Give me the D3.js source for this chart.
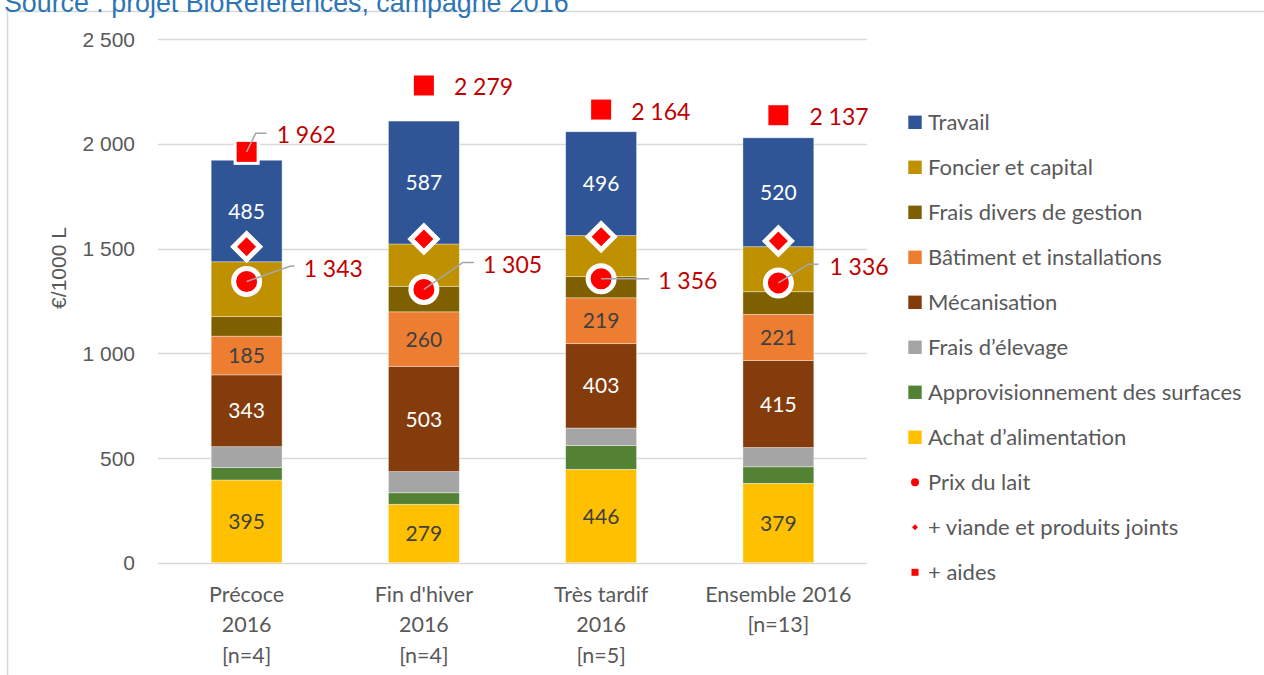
<!DOCTYPE html>
<html lang="fr">
<head>
<meta charset="UTF-8">
<title>Coût de production</title>
<script src="https://d3js.org/d3.v7.min.js"></script>
<style>
    body { margin: 0; background: #fff; }
    svg { display: block; }
    .tick-label { font-family: "Liberation Sans", Arial, sans-serif; font-size: 21px; fill: #595959; }
    .cat-label { font-family: Lato, sans-serif; font-size: 21.5px; fill: #595959; }
    .legend text { font-family: Lato, sans-serif; font-size: 22px; fill: #595959; }
    .seg-label { font-family: Lato, sans-serif; font-size: 21px; }
    .red-label { font-family: Lato, sans-serif; font-size: 23px; fill: #C00000; }
</style>
</head>
<body>
<svg id="chart" width="1264" height="675"></svg>
<script>
// groupes (une ligne par élément)
const categories = [
    ["Précoce", "2016", "[n=4]"],
    ["Fin d'hiver", "2016", "[n=4]"],
    ["Très tardif", "2016", "[n=5]"],
    ["Ensemble 2016", "[n=13]"]
];

// postes de coût, du bas vers le haut de la pile
const seriesNames = ["Achat d’alimentation", "Approvisionnement des surfaces", "Frais d’élevage",
    "Mécanisation", "Bâtiment et installations", "Frais divers de gestion", "Foncier et capital", "Travail"];
const achat = [395, 279, 446, 379];
const approvisionnement = [59, 55, 113, 79];
const elevage = [100, 101, 84, 92];
const mecanisation = [343, 503, 403, 415];
const batiment = [185, 260, 219, 221];
const fraisDivers = [93, 122, 101, 108];
const foncier = [262, 202, 196, 215];
const travail = [485, 587, 496, 520];

// produits
const prixLait = [1343, 1305, 1356, 1336];
const viande = [1509, 1546, 1557, 1536];
const aides = [1962, 2279, 2164, 2137];

const yTicks = [0, 500, 1000, 1500, 2000, 2500];

const colors = ["#FFC000", "#548235", "#A5A5A5", "#843C0C", "#ED7D31", "#7F6000", "#BF9000", "#2F5597"];
const labelled = { "Achat d’alimentation": "#404040", "Mécanisation": "#fff",
    "Bâtiment et installations": "#404040", "Travail": "#fff" };

// emplacements des étiquettes rouges (décalés à la main, comme dans Excel)
const aidesLabelPos = [
    { dx: 30, dy: -17, leader: [[9, -18.5], [20, -18.5]] },
    { dx: 30, dy: 1 },
    { dx: 30, dy: 2 },
    { dx: 31, dy: 1.5 }
];
const laitLabelPos = [
    { dx: 57, dy: -13, leader: [[44, -15.5], [48, -15.5]] },
    { dx: 59, dy: -25, leader: [[39, -27], [50, -27]] },
    { dx: 57, dy: 2, leader: [[48, 0]] },
    { dx: 51, dy: -16, leader: [[30, -18.7], [40, -18.7]] }
];

const fr = d3.formatLocale({ decimal: ",", thousands: "\u00a0", grouping: [3], currency: ["", " €"] });
const fmt = fr.format(",");

const svg = d3.select("#chart");

// cadre de la zone graphique
svg.append("rect")
    .attr("x", 7.5).attr("y", 11.5)
    .attr("width", 1300).attr("height", 700)
    .attr("fill", "none").attr("stroke", "#D9D9D9").attr("stroke-width", 1.5);

svg.append("text")
    .attr("x", 4).attr("y", 12)
    .attr("font-family", "Liberation Sans, Arial, sans-serif")
    .attr("font-size", 26.8)
    .attr("fill", "#2E75B6")
    .text("Source : projet BioRéférences, campagne 2016");

const x = d3.scaleBand()
    .domain(d3.range(categories.length))
    .range([158, 867])
    .paddingInner(0.6)
    .paddingOuter(0.3);

const y = d3.scaleLinear().domain([0, 2500]).range([562.7, 39.2]);

// grille
svg.append("g")
    .selectAll("line")
    .data(yTicks)
    .join("line")
    .attr("x1", 158).attr("x2", 867)
    .attr("y1", d => Math.round(y(d)) + 0.5)
    .attr("y2", d => Math.round(y(d)) + 0.5)
    .attr("stroke", "#D9D9D9").attr("stroke-width", 1.5);

svg.append("g")
    .selectAll("text")
    .data(yTicks)
    .join("text")
    .attr("class", "tick-label")
    .attr("x", 135)
    .attr("y", d => y(d))
    .attr("dy", "0.36em")
    .attr("text-anchor", "end")
    .text(d => fmt(d));

svg.append("text")
    .attr("class", "tick-label")
    .attr("transform", "translate(66,268) rotate(-90)")
    .attr("text-anchor", "middle")
    .text("€/1000 L");

// empilement
const table = categories.map((c, i) => ({
    "Achat d’alimentation": achat[i],
    "Approvisionnement des surfaces": approvisionnement[i],
    "Frais d’élevage": elevage[i],
    "Mécanisation": mecanisation[i],
    "Bâtiment et installations": batiment[i],
    "Frais divers de gestion": fraisDivers[i],
    "Foncier et capital": foncier[i],
    "Travail": travail[i]
}));
const stacked = d3.stack().keys(seriesNames)(table);

const layer = svg.append("g")
    .selectAll("g")
    .data(stacked)
    .join("g")
    .attr("fill", (d, i) => colors[i]);

layer.selectAll("rect")
    .data(d => d.map((v, i) => ({ v, i })))
    .join("rect")
    .attr("x", d => x(d.i))
    .attr("width", x.bandwidth())
    .attr("y", d => y(d.v[1]))
    .attr("height", d => y(d.v[0]) - y(d.v[1]))
    .attr("stroke", "#fff").attr("stroke-opacity", 0.5).attr("stroke-width", 0.75);

stacked.filter(s => labelled[s.key]).forEach(s => {
    svg.append("g")
        .selectAll("text")
        .data(s.map((v, i) => ({ v, i })))
        .join("text")
        .attr("class", "seg-label")
        .attr("x", d => x(d.i) + x.bandwidth() / 2)
        .attr("y", d => y((d.v[0] + d.v[1]) / 2))
        .attr("dy", "0.36em")
        .attr("text-anchor", "middle")
        .attr("fill", labelled[s.key])
        .text(d => d.v[1] - d.v[0]);
});

const cx = i => x(i) + x.bandwidth() / 2;

// marqueurs
const diamond = r => `M0,${-r}L${r},0L0,${r}L${-r},0Z`;

svg.append("g")
    .selectAll("circle")
    .data(prixLait)
    .join("circle")
    .attr("cx", (d, i) => cx(i)).attr("cy", d => y(d))
    .attr("r", 13)
    .attr("fill", "#FF0000").attr("stroke", "#fff").attr("stroke-width", 5);

svg.append("g")
    .selectAll("path")
    .data(viande)
    .join("path")
    .attr("transform", (d, i) => `translate(${cx(i)},${y(d)})`)
    .attr("d", diamond(13))
    .attr("fill", "#FF0000").attr("stroke", "#fff").attr("stroke-width", 5)
    .attr("stroke-linejoin", "miter");

svg.append("g")
    .selectAll("rect")
    .data(aides)
    .join("rect")
    .attr("x", (d, i) => cx(i) - 11.5).attr("y", d => y(d) - 11.5)
    .attr("width", 23).attr("height", 23)
    .attr("fill", "#FF0000").attr("stroke", "#fff").attr("stroke-width", 3);

// étiquettes rouges + lignes de rappel
function redLabels(values, pos) {
    const g = svg.append("g");
    values.forEach((v, i) => {
        const px = cx(i), py = y(v), p = pos[i];
        if (p.leader) {
            const pts = [[px, py]].concat(p.leader.map(q => [px + q[0], py + q[1]]));
            g.append("path")
                .attr("d", d3.line()(pts))
                .attr("fill", "none").attr("stroke", "#A6A6A6").attr("stroke-width", 1.5);
        }
        g.append("text")
            .attr("class", "red-label")
            .attr("x", px + p.dx).attr("y", py + p.dy)
            .attr("dy", "0.36em")
            .text(fmt(v));
    });
}
redLabels(aides, aidesLabelPos);
redLabels(prixLait, laitLabelPos);

// étiquettes des groupes
const cat = svg.append("g")
    .selectAll("text")
    .data(categories)
    .join("text")
    .attr("class", "cat-label")
    .attr("text-anchor", "middle")
    .attr("transform", (d, i) => `translate(${cx(i)},594)`);
cat.selectAll("tspan")
    .data(d => d)
    .join("tspan")
    .attr("x", 0)
    .attr("y", (d, j) => j * 30.5)
    .attr("dy", "0.36em")
    .text(d => d);

// légende
const legendItems = seriesNames.slice().reverse().map(n => ({ name: n, type: "bar", color: colors[seriesNames.indexOf(n)] }))
    .concat([
        { name: "Prix du lait", type: "circle" },
        { name: "+ viande et produits joints", type: "diamond" },
        { name: "+ aides", type: "square" }
    ]);

const legend = svg.append("g")
    .attr("class", "legend")
    .selectAll("g")
    .data(legendItems)
    .join("g")
    .attr("transform", (d, i) => `translate(915,${122.3 + i * 45})`);

legend.each(function (d) {
    const g = d3.select(this);
    if (d.type === "bar") {
        g.append("rect").attr("x", -6.7).attr("y", -6.7).attr("width", 13.4).attr("height", 13.4).attr("fill", d.color);
    } else if (d.type === "circle") {
        g.append("circle").attr("r", 4).attr("fill", "#FF0000");
    } else if (d.type === "diamond") {
        g.append("path").attr("d", diamond(3)).attr("fill", "#FF0000");
    } else {
        g.append("rect").attr("x", -3.5).attr("y", -3.5).attr("width", 7).attr("height", 7).attr("fill", "#FF0000");
    }
});

legend.append("text")
    .attr("x", 13)
    .attr("dy", "0.36em")
    .text(d => d.name);
</script>
</body>
</html>
